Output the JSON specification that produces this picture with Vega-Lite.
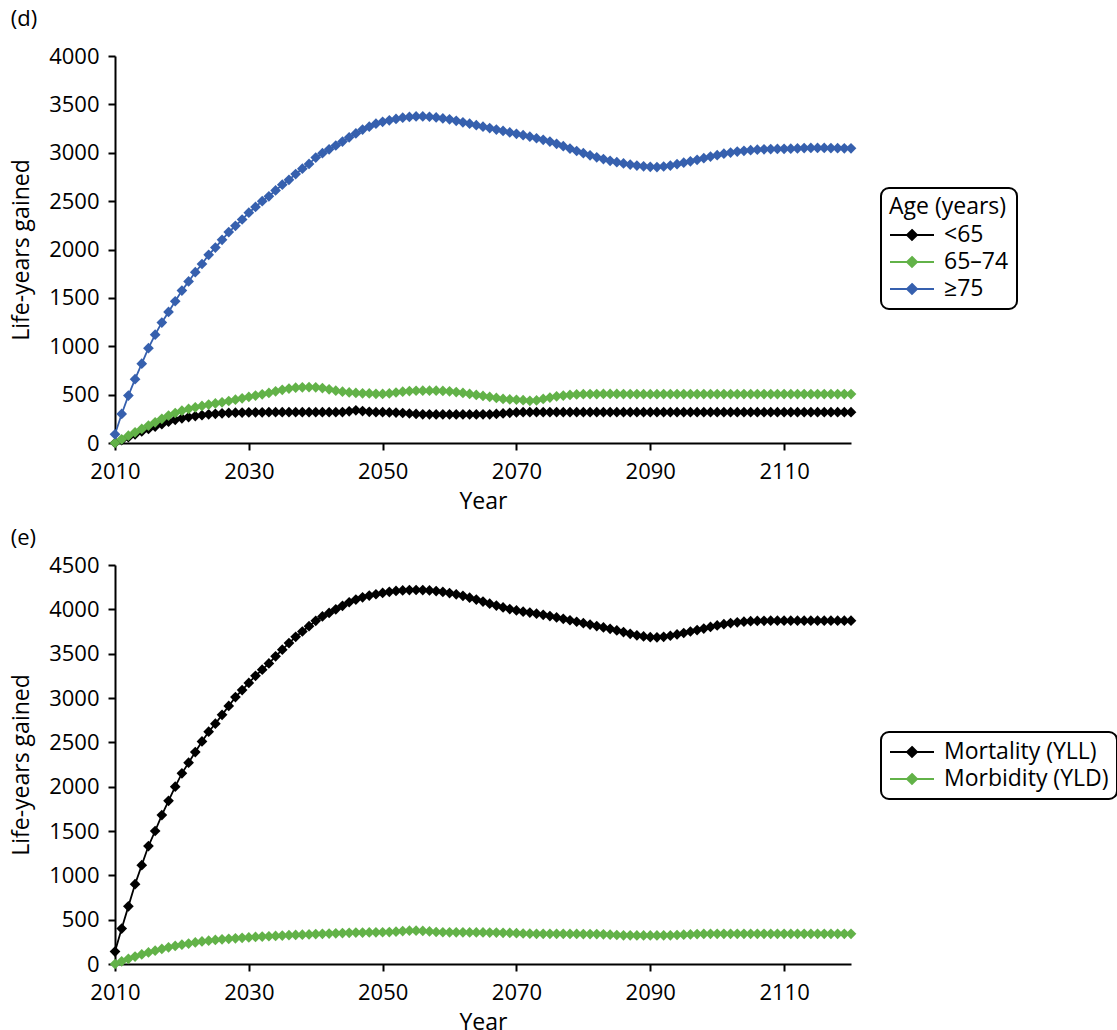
{
"$schema": "https://vega.github.io/schema/vega-lite/v6.json",
"padding": {"left": 10, "top": 8, "right": 0, "bottom": 0},
"spacing": 14,
"config": {"font": "Open Sans", "view": {"stroke": null},
  "axis": {"grid": false, "domainColor": "#000000", "domainWidth": 2, "tickColor": "#000000", "tickWidth": 2, "tickSize": 7, "labelFontSize": 22, "labelColor": "#000000", "titleFontSize": 23, "titleFontWeight": "normal", "titleColor": "#000000", "labelFlush": false},
  "axisX": {"labelPadding": 11, "titlePadding": 8},
  "axisY": {"labelPadding": 9, "titlePadding": 15},
  "legend": {"labelFontSize": 23, "titleFontSize": 23, "titleFontWeight": "normal", "labelColor": "#000000", "titleColor": "#000000", "labelLimit": 400},
  "title": {"fontSize": 22, "fontWeight": "normal", "color": "#000000"}},
"resolve": {"scale": {"color": "independent"}, "legend": {"color": "independent"}},
"datasets": {
"d": [
{"year":2010,"group":"<65","value":0},{"year":2011,"group":"<65","value":30},{"year":2012,"group":"<65","value":60},{"year":2013,"group":"<65","value":90},{"year":2014,"group":"<65","value":120},{"year":2015,"group":"<65","value":145},{"year":2016,"group":"<65","value":170},{"year":2017,"group":"<65","value":195},{"year":2018,"group":"<65","value":220},{"year":2019,"group":"<65","value":240},
{"year":2020,"group":"<65","value":255},{"year":2021,"group":"<65","value":268},{"year":2022,"group":"<65","value":278},{"year":2023,"group":"<65","value":288},{"year":2024,"group":"<65","value":296},{"year":2025,"group":"<65","value":302},{"year":2026,"group":"<65","value":307},{"year":2027,"group":"<65","value":311},{"year":2028,"group":"<65","value":313},{"year":2029,"group":"<65","value":315},
{"year":2030,"group":"<65","value":316},{"year":2031,"group":"<65","value":317},{"year":2032,"group":"<65","value":317},{"year":2033,"group":"<65","value":318},{"year":2034,"group":"<65","value":318},{"year":2035,"group":"<65","value":318},{"year":2036,"group":"<65","value":318},{"year":2037,"group":"<65","value":318},{"year":2038,"group":"<65","value":318},{"year":2039,"group":"<65","value":318},
{"year":2040,"group":"<65","value":318},{"year":2041,"group":"<65","value":318},{"year":2042,"group":"<65","value":318},{"year":2043,"group":"<65","value":318},{"year":2044,"group":"<65","value":320},{"year":2045,"group":"<65","value":328},{"year":2046,"group":"<65","value":338},{"year":2047,"group":"<65","value":330},{"year":2048,"group":"<65","value":322},{"year":2049,"group":"<65","value":319},
{"year":2050,"group":"<65","value":318},{"year":2051,"group":"<65","value":316},{"year":2052,"group":"<65","value":314},{"year":2053,"group":"<65","value":310},{"year":2054,"group":"<65","value":305},{"year":2055,"group":"<65","value":300},{"year":2056,"group":"<65","value":297},{"year":2057,"group":"<65","value":296},{"year":2058,"group":"<65","value":295},{"year":2059,"group":"<65","value":295},
{"year":2060,"group":"<65","value":295},{"year":2061,"group":"<65","value":295},{"year":2062,"group":"<65","value":295},{"year":2063,"group":"<65","value":295},{"year":2064,"group":"<65","value":295},{"year":2065,"group":"<65","value":296},{"year":2066,"group":"<65","value":297},{"year":2067,"group":"<65","value":300},{"year":2068,"group":"<65","value":306},{"year":2069,"group":"<65","value":312},
{"year":2070,"group":"<65","value":316},{"year":2071,"group":"<65","value":318},{"year":2072,"group":"<65","value":318},{"year":2073,"group":"<65","value":318},{"year":2074,"group":"<65","value":318},{"year":2075,"group":"<65","value":318},{"year":2076,"group":"<65","value":318},{"year":2077,"group":"<65","value":318},{"year":2078,"group":"<65","value":318},{"year":2079,"group":"<65","value":318},
{"year":2080,"group":"<65","value":318},{"year":2081,"group":"<65","value":318},{"year":2082,"group":"<65","value":318},{"year":2083,"group":"<65","value":318},{"year":2084,"group":"<65","value":318},{"year":2085,"group":"<65","value":318},{"year":2086,"group":"<65","value":318},{"year":2087,"group":"<65","value":318},{"year":2088,"group":"<65","value":318},{"year":2089,"group":"<65","value":318},
{"year":2090,"group":"<65","value":318},{"year":2091,"group":"<65","value":318},{"year":2092,"group":"<65","value":318},{"year":2093,"group":"<65","value":318},{"year":2094,"group":"<65","value":318},{"year":2095,"group":"<65","value":318},{"year":2096,"group":"<65","value":318},{"year":2097,"group":"<65","value":318},{"year":2098,"group":"<65","value":318},{"year":2099,"group":"<65","value":318},
{"year":2100,"group":"<65","value":318},{"year":2101,"group":"<65","value":318},{"year":2102,"group":"<65","value":318},{"year":2103,"group":"<65","value":318},{"year":2104,"group":"<65","value":318},{"year":2105,"group":"<65","value":318},{"year":2106,"group":"<65","value":318},{"year":2107,"group":"<65","value":318},{"year":2108,"group":"<65","value":318},{"year":2109,"group":"<65","value":318},
{"year":2110,"group":"<65","value":318},{"year":2111,"group":"<65","value":318},{"year":2112,"group":"<65","value":318},{"year":2113,"group":"<65","value":318},{"year":2114,"group":"<65","value":318},{"year":2115,"group":"<65","value":318},{"year":2116,"group":"<65","value":318},{"year":2117,"group":"<65","value":318},{"year":2118,"group":"<65","value":318},{"year":2119,"group":"<65","value":318},{"year":2120,"group":"<65","value":318},
{"year":2010,"group":"65–74","value":0},{"year":2011,"group":"65–74","value":38},{"year":2012,"group":"65–74","value":76},{"year":2013,"group":"65–74","value":110},{"year":2014,"group":"65–74","value":145},{"year":2015,"group":"65–74","value":180},{"year":2016,"group":"65–74","value":214},{"year":2017,"group":"65–74","value":250},{"year":2018,"group":"65–74","value":283},{"year":2019,"group":"65–74","value":310},
{"year":2020,"group":"65–74","value":334},{"year":2021,"group":"65–74","value":352},{"year":2022,"group":"65–74","value":369},{"year":2023,"group":"65–74","value":383},{"year":2024,"group":"65–74","value":397},{"year":2025,"group":"65–74","value":409},{"year":2026,"group":"65–74","value":421},{"year":2027,"group":"65–74","value":434},{"year":2028,"group":"65–74","value":448},{"year":2029,"group":"65–74","value":462},
{"year":2030,"group":"65–74","value":476},{"year":2031,"group":"65–74","value":490},{"year":2032,"group":"65–74","value":503},{"year":2033,"group":"65–74","value":518},{"year":2034,"group":"65–74","value":534},{"year":2035,"group":"65–74","value":550},{"year":2036,"group":"65–74","value":563},{"year":2037,"group":"65–74","value":572},{"year":2038,"group":"65–74","value":576},{"year":2039,"group":"65–74","value":577},
{"year":2040,"group":"65–74","value":576},{"year":2041,"group":"65–74","value":568},{"year":2042,"group":"65–74","value":555},{"year":2043,"group":"65–74","value":541},{"year":2044,"group":"65–74","value":531},{"year":2045,"group":"65–74","value":523},{"year":2046,"group":"65–74","value":517},{"year":2047,"group":"65–74","value":514},{"year":2048,"group":"65–74","value":512},{"year":2049,"group":"65–74","value":508},
{"year":2050,"group":"65–74","value":507},{"year":2051,"group":"65–74","value":512},{"year":2052,"group":"65–74","value":522},{"year":2053,"group":"65–74","value":530},{"year":2054,"group":"65–74","value":537},{"year":2055,"group":"65–74","value":540},{"year":2056,"group":"65–74","value":541},{"year":2057,"group":"65–74","value":541},{"year":2058,"group":"65–74","value":541},{"year":2059,"group":"65–74","value":538},
{"year":2060,"group":"65–74","value":534},{"year":2061,"group":"65–74","value":526},{"year":2062,"group":"65–74","value":517},{"year":2063,"group":"65–74","value":507},{"year":2064,"group":"65–74","value":497},{"year":2065,"group":"65–74","value":487},{"year":2066,"group":"65–74","value":476},{"year":2067,"group":"65–74","value":466},{"year":2068,"group":"65–74","value":456},{"year":2069,"group":"65–74","value":450},
{"year":2070,"group":"65–74","value":447},{"year":2071,"group":"65–74","value":442},{"year":2072,"group":"65–74","value":436},{"year":2073,"group":"65–74","value":440},{"year":2074,"group":"65–74","value":455},{"year":2075,"group":"65–74","value":470},{"year":2076,"group":"65–74","value":482},{"year":2077,"group":"65–74","value":490},{"year":2078,"group":"65–74","value":497},{"year":2079,"group":"65–74","value":502},
{"year":2080,"group":"65–74","value":505},{"year":2081,"group":"65–74","value":506},{"year":2082,"group":"65–74","value":506},{"year":2083,"group":"65–74","value":507},{"year":2084,"group":"65–74","value":507},{"year":2085,"group":"65–74","value":507},{"year":2086,"group":"65–74","value":506},{"year":2087,"group":"65–74","value":506},{"year":2088,"group":"65–74","value":506},{"year":2089,"group":"65–74","value":505},
{"year":2090,"group":"65–74","value":505},{"year":2091,"group":"65–74","value":505},{"year":2092,"group":"65–74","value":506},{"year":2093,"group":"65–74","value":506},{"year":2094,"group":"65–74","value":506},{"year":2095,"group":"65–74","value":506},{"year":2096,"group":"65–74","value":506},{"year":2097,"group":"65–74","value":506},{"year":2098,"group":"65–74","value":506},{"year":2099,"group":"65–74","value":506},
{"year":2100,"group":"65–74","value":506},{"year":2101,"group":"65–74","value":506},{"year":2102,"group":"65–74","value":506},{"year":2103,"group":"65–74","value":506},{"year":2104,"group":"65–74","value":506},{"year":2105,"group":"65–74","value":506},{"year":2106,"group":"65–74","value":506},{"year":2107,"group":"65–74","value":506},{"year":2108,"group":"65–74","value":506},{"year":2109,"group":"65–74","value":506},
{"year":2110,"group":"65–74","value":506},{"year":2111,"group":"65–74","value":506},{"year":2112,"group":"65–74","value":506},{"year":2113,"group":"65–74","value":506},{"year":2114,"group":"65–74","value":506},{"year":2115,"group":"65–74","value":506},{"year":2116,"group":"65–74","value":506},{"year":2117,"group":"65–74","value":506},{"year":2118,"group":"65–74","value":506},{"year":2119,"group":"65–74","value":506},{"year":2120,"group":"65–74","value":506},
{"year":2010,"group":"≥75","value":90},{"year":2011,"group":"≥75","value":300},{"year":2012,"group":"≥75","value":490},{"year":2013,"group":"≥75","value":660},{"year":2014,"group":"≥75","value":820},{"year":2015,"group":"≥75","value":980},{"year":2016,"group":"≥75","value":1120},{"year":2017,"group":"≥75","value":1245},{"year":2018,"group":"≥75","value":1355},{"year":2019,"group":"≥75","value":1465},
{"year":2020,"group":"≥75","value":1575},{"year":2021,"group":"≥75","value":1670},{"year":2022,"group":"≥75","value":1765},{"year":2023,"group":"≥75","value":1850},{"year":2024,"group":"≥75","value":1945},{"year":2025,"group":"≥75","value":2020},{"year":2026,"group":"≥75","value":2100},{"year":2027,"group":"≥75","value":2180},{"year":2028,"group":"≥75","value":2245},{"year":2029,"group":"≥75","value":2310},
{"year":2030,"group":"≥75","value":2380},{"year":2031,"group":"≥75","value":2440},{"year":2032,"group":"≥75","value":2500},{"year":2033,"group":"≥75","value":2550},{"year":2034,"group":"≥75","value":2610},{"year":2035,"group":"≥75","value":2670},{"year":2036,"group":"≥75","value":2720},{"year":2037,"group":"≥75","value":2780},{"year":2038,"group":"≥75","value":2835},{"year":2039,"group":"≥75","value":2885},
{"year":2040,"group":"≥75","value":2950},{"year":2041,"group":"≥75","value":2995},{"year":2042,"group":"≥75","value":3035},{"year":2043,"group":"≥75","value":3075},{"year":2044,"group":"≥75","value":3115},{"year":2045,"group":"≥75","value":3160},{"year":2046,"group":"≥75","value":3200},{"year":2047,"group":"≥75","value":3240},{"year":2048,"group":"≥75","value":3270},{"year":2049,"group":"≥75","value":3300},
{"year":2050,"group":"≥75","value":3320},{"year":2051,"group":"≥75","value":3335},{"year":2052,"group":"≥75","value":3350},{"year":2053,"group":"≥75","value":3362},{"year":2054,"group":"≥75","value":3370},{"year":2055,"group":"≥75","value":3375},{"year":2056,"group":"≥75","value":3375},{"year":2057,"group":"≥75","value":3372},{"year":2058,"group":"≥75","value":3365},{"year":2059,"group":"≥75","value":3355},
{"year":2060,"group":"≥75","value":3345},{"year":2061,"group":"≥75","value":3330},{"year":2062,"group":"≥75","value":3315},{"year":2063,"group":"≥75","value":3300},{"year":2064,"group":"≥75","value":3285},{"year":2065,"group":"≥75","value":3270},{"year":2066,"group":"≥75","value":3255},{"year":2067,"group":"≥75","value":3240},{"year":2068,"group":"≥75","value":3225},{"year":2069,"group":"≥75","value":3210},
{"year":2070,"group":"≥75","value":3196},{"year":2071,"group":"≥75","value":3182},{"year":2072,"group":"≥75","value":3166},{"year":2073,"group":"≥75","value":3150},{"year":2074,"group":"≥75","value":3134},{"year":2075,"group":"≥75","value":3115},{"year":2076,"group":"≥75","value":3092},{"year":2077,"group":"≥75","value":3068},{"year":2078,"group":"≥75","value":3043},{"year":2079,"group":"≥75","value":3018},
{"year":2080,"group":"≥75","value":2995},{"year":2081,"group":"≥75","value":2973},{"year":2082,"group":"≥75","value":2953},{"year":2083,"group":"≥75","value":2935},{"year":2084,"group":"≥75","value":2917},{"year":2085,"group":"≥75","value":2902},{"year":2086,"group":"≥75","value":2890},{"year":2087,"group":"≥75","value":2878},{"year":2088,"group":"≥75","value":2868},{"year":2089,"group":"≥75","value":2860},
{"year":2090,"group":"≥75","value":2855},{"year":2091,"group":"≥75","value":2852},{"year":2092,"group":"≥75","value":2858},{"year":2093,"group":"≥75","value":2868},{"year":2094,"group":"≥75","value":2882},{"year":2095,"group":"≥75","value":2897},{"year":2096,"group":"≥75","value":2912},{"year":2097,"group":"≥75","value":2927},{"year":2098,"group":"≥75","value":2944},{"year":2099,"group":"≥75","value":2960},
{"year":2100,"group":"≥75","value":2975},{"year":2101,"group":"≥75","value":2990},{"year":2102,"group":"≥75","value":3002},{"year":2103,"group":"≥75","value":3012},{"year":2104,"group":"≥75","value":3020},{"year":2105,"group":"≥75","value":3026},{"year":2106,"group":"≥75","value":3032},{"year":2107,"group":"≥75","value":3036},{"year":2108,"group":"≥75","value":3038},{"year":2109,"group":"≥75","value":3040},
{"year":2110,"group":"≥75","value":3041},{"year":2111,"group":"≥75","value":3042},{"year":2112,"group":"≥75","value":3045},{"year":2113,"group":"≥75","value":3048},{"year":2114,"group":"≥75","value":3050},{"year":2115,"group":"≥75","value":3050},{"year":2116,"group":"≥75","value":3050},{"year":2117,"group":"≥75","value":3048},{"year":2118,"group":"≥75","value":3047},{"year":2119,"group":"≥75","value":3046},{"year":2120,"group":"≥75","value":3046}
],
"e": [
{"year":2010,"type":"Mortality (YLL)","value":140},{"year":2011,"type":"Mortality (YLL)","value":400},{"year":2012,"type":"Mortality (YLL)","value":650},{"year":2013,"type":"Mortality (YLL)","value":900},{"year":2014,"type":"Mortality (YLL)","value":1115},{"year":2015,"type":"Mortality (YLL)","value":1330},{"year":2016,"type":"Mortality (YLL)","value":1500},{"year":2017,"type":"Mortality (YLL)","value":1680},{"year":2018,"type":"Mortality (YLL)","value":1840},{"year":2019,"type":"Mortality (YLL)","value":2000},
{"year":2020,"type":"Mortality (YLL)","value":2150},{"year":2021,"type":"Mortality (YLL)","value":2270},{"year":2022,"type":"Mortality (YLL)","value":2390},{"year":2023,"type":"Mortality (YLL)","value":2510},{"year":2024,"type":"Mortality (YLL)","value":2620},{"year":2025,"type":"Mortality (YLL)","value":2710},{"year":2026,"type":"Mortality (YLL)","value":2810},{"year":2027,"type":"Mortality (YLL)","value":2910},{"year":2028,"type":"Mortality (YLL)","value":3010},{"year":2029,"type":"Mortality (YLL)","value":3090},
{"year":2030,"type":"Mortality (YLL)","value":3170},{"year":2031,"type":"Mortality (YLL)","value":3250},{"year":2032,"type":"Mortality (YLL)","value":3320},{"year":2033,"type":"Mortality (YLL)","value":3390},{"year":2034,"type":"Mortality (YLL)","value":3470},{"year":2035,"type":"Mortality (YLL)","value":3545},{"year":2036,"type":"Mortality (YLL)","value":3620},{"year":2037,"type":"Mortality (YLL)","value":3690},{"year":2038,"type":"Mortality (YLL)","value":3750},{"year":2039,"type":"Mortality (YLL)","value":3810},
{"year":2040,"type":"Mortality (YLL)","value":3870},{"year":2041,"type":"Mortality (YLL)","value":3920},{"year":2042,"type":"Mortality (YLL)","value":3960},{"year":2043,"type":"Mortality (YLL)","value":4000},{"year":2044,"type":"Mortality (YLL)","value":4040},{"year":2045,"type":"Mortality (YLL)","value":4080},{"year":2046,"type":"Mortality (YLL)","value":4110},{"year":2047,"type":"Mortality (YLL)","value":4135},{"year":2048,"type":"Mortality (YLL)","value":4155},{"year":2049,"type":"Mortality (YLL)","value":4170},
{"year":2050,"type":"Mortality (YLL)","value":4185},{"year":2051,"type":"Mortality (YLL)","value":4198},{"year":2052,"type":"Mortality (YLL)","value":4207},{"year":2053,"type":"Mortality (YLL)","value":4213},{"year":2054,"type":"Mortality (YLL)","value":4217},{"year":2055,"type":"Mortality (YLL)","value":4218},{"year":2056,"type":"Mortality (YLL)","value":4217},{"year":2057,"type":"Mortality (YLL)","value":4213},{"year":2058,"type":"Mortality (YLL)","value":4206},{"year":2059,"type":"Mortality (YLL)","value":4196},
{"year":2060,"type":"Mortality (YLL)","value":4184},{"year":2061,"type":"Mortality (YLL)","value":4169},{"year":2062,"type":"Mortality (YLL)","value":4152},{"year":2063,"type":"Mortality (YLL)","value":4132},{"year":2064,"type":"Mortality (YLL)","value":4110},{"year":2065,"type":"Mortality (YLL)","value":4087},{"year":2066,"type":"Mortality (YLL)","value":4064},{"year":2067,"type":"Mortality (YLL)","value":4042},{"year":2068,"type":"Mortality (YLL)","value":4021},{"year":2069,"type":"Mortality (YLL)","value":4003},
{"year":2070,"type":"Mortality (YLL)","value":3987},{"year":2071,"type":"Mortality (YLL)","value":3974},{"year":2072,"type":"Mortality (YLL)","value":3963},{"year":2073,"type":"Mortality (YLL)","value":3951},{"year":2074,"type":"Mortality (YLL)","value":3938},{"year":2075,"type":"Mortality (YLL)","value":3924},{"year":2076,"type":"Mortality (YLL)","value":3909},{"year":2077,"type":"Mortality (YLL)","value":3893},{"year":2078,"type":"Mortality (YLL)","value":3877},{"year":2079,"type":"Mortality (YLL)","value":3860},
{"year":2080,"type":"Mortality (YLL)","value":3844},{"year":2081,"type":"Mortality (YLL)","value":3828},{"year":2082,"type":"Mortality (YLL)","value":3811},{"year":2083,"type":"Mortality (YLL)","value":3796},{"year":2084,"type":"Mortality (YLL)","value":3780},{"year":2085,"type":"Mortality (YLL)","value":3762},{"year":2086,"type":"Mortality (YLL)","value":3743},{"year":2087,"type":"Mortality (YLL)","value":3724},{"year":2088,"type":"Mortality (YLL)","value":3707},{"year":2089,"type":"Mortality (YLL)","value":3694},
{"year":2090,"type":"Mortality (YLL)","value":3686},{"year":2091,"type":"Mortality (YLL)","value":3684},{"year":2092,"type":"Mortality (YLL)","value":3690},{"year":2093,"type":"Mortality (YLL)","value":3702},{"year":2094,"type":"Mortality (YLL)","value":3717},{"year":2095,"type":"Mortality (YLL)","value":3733},{"year":2096,"type":"Mortality (YLL)","value":3750},{"year":2097,"type":"Mortality (YLL)","value":3766},{"year":2098,"type":"Mortality (YLL)","value":3783},{"year":2099,"type":"Mortality (YLL)","value":3802},
{"year":2100,"type":"Mortality (YLL)","value":3818},{"year":2101,"type":"Mortality (YLL)","value":3832},{"year":2102,"type":"Mortality (YLL)","value":3845},{"year":2103,"type":"Mortality (YLL)","value":3854},{"year":2104,"type":"Mortality (YLL)","value":3861},{"year":2105,"type":"Mortality (YLL)","value":3866},{"year":2106,"type":"Mortality (YLL)","value":3869},{"year":2107,"type":"Mortality (YLL)","value":3871},{"year":2108,"type":"Mortality (YLL)","value":3872},{"year":2109,"type":"Mortality (YLL)","value":3872},
{"year":2110,"type":"Mortality (YLL)","value":3872},{"year":2111,"type":"Mortality (YLL)","value":3872},{"year":2112,"type":"Mortality (YLL)","value":3872},{"year":2113,"type":"Mortality (YLL)","value":3872},{"year":2114,"type":"Mortality (YLL)","value":3872},{"year":2115,"type":"Mortality (YLL)","value":3872},{"year":2116,"type":"Mortality (YLL)","value":3872},{"year":2117,"type":"Mortality (YLL)","value":3872},{"year":2118,"type":"Mortality (YLL)","value":3872},{"year":2119,"type":"Mortality (YLL)","value":3872},{"year":2120,"type":"Mortality (YLL)","value":3872},
{"year":2010,"type":"Morbidity (YLD)","value":0},{"year":2011,"type":"Morbidity (YLD)","value":30},{"year":2012,"type":"Morbidity (YLD)","value":58},{"year":2013,"type":"Morbidity (YLD)","value":84},{"year":2014,"type":"Morbidity (YLD)","value":108},{"year":2015,"type":"Morbidity (YLD)","value":130},{"year":2016,"type":"Morbidity (YLD)","value":150},{"year":2017,"type":"Morbidity (YLD)","value":170},{"year":2018,"type":"Morbidity (YLD)","value":188},{"year":2019,"type":"Morbidity (YLD)","value":204},
{"year":2020,"type":"Morbidity (YLD)","value":218},{"year":2021,"type":"Morbidity (YLD)","value":231},{"year":2022,"type":"Morbidity (YLD)","value":243},{"year":2023,"type":"Morbidity (YLD)","value":254},{"year":2024,"type":"Morbidity (YLD)","value":263},{"year":2025,"type":"Morbidity (YLD)","value":271},{"year":2026,"type":"Morbidity (YLD)","value":278},{"year":2027,"type":"Morbidity (YLD)","value":284},{"year":2028,"type":"Morbidity (YLD)","value":290},{"year":2029,"type":"Morbidity (YLD)","value":295},
{"year":2030,"type":"Morbidity (YLD)","value":300},{"year":2031,"type":"Morbidity (YLD)","value":305},{"year":2032,"type":"Morbidity (YLD)","value":309},{"year":2033,"type":"Morbidity (YLD)","value":313},{"year":2034,"type":"Morbidity (YLD)","value":317},{"year":2035,"type":"Morbidity (YLD)","value":321},{"year":2036,"type":"Morbidity (YLD)","value":325},{"year":2037,"type":"Morbidity (YLD)","value":328},{"year":2038,"type":"Morbidity (YLD)","value":331},{"year":2039,"type":"Morbidity (YLD)","value":334},
{"year":2040,"type":"Morbidity (YLD)","value":337},{"year":2041,"type":"Morbidity (YLD)","value":340},{"year":2042,"type":"Morbidity (YLD)","value":343},{"year":2043,"type":"Morbidity (YLD)","value":346},{"year":2044,"type":"Morbidity (YLD)","value":349},{"year":2045,"type":"Morbidity (YLD)","value":352},{"year":2046,"type":"Morbidity (YLD)","value":354},{"year":2047,"type":"Morbidity (YLD)","value":355},{"year":2048,"type":"Morbidity (YLD)","value":356},{"year":2049,"type":"Morbidity (YLD)","value":357},
{"year":2050,"type":"Morbidity (YLD)","value":358},{"year":2051,"type":"Morbidity (YLD)","value":360},{"year":2052,"type":"Morbidity (YLD)","value":365},{"year":2053,"type":"Morbidity (YLD)","value":372},{"year":2054,"type":"Morbidity (YLD)","value":376},{"year":2055,"type":"Morbidity (YLD)","value":376},{"year":2056,"type":"Morbidity (YLD)","value":373},{"year":2057,"type":"Morbidity (YLD)","value":367},{"year":2058,"type":"Morbidity (YLD)","value":361},{"year":2059,"type":"Morbidity (YLD)","value":358},
{"year":2060,"type":"Morbidity (YLD)","value":357},{"year":2061,"type":"Morbidity (YLD)","value":357},{"year":2062,"type":"Morbidity (YLD)","value":357},{"year":2063,"type":"Morbidity (YLD)","value":356},{"year":2064,"type":"Morbidity (YLD)","value":356},{"year":2065,"type":"Morbidity (YLD)","value":356},{"year":2066,"type":"Morbidity (YLD)","value":355},{"year":2067,"type":"Morbidity (YLD)","value":354},{"year":2068,"type":"Morbidity (YLD)","value":352},{"year":2069,"type":"Morbidity (YLD)","value":350},
{"year":2070,"type":"Morbidity (YLD)","value":347},{"year":2071,"type":"Morbidity (YLD)","value":344},{"year":2072,"type":"Morbidity (YLD)","value":342},{"year":2073,"type":"Morbidity (YLD)","value":341},{"year":2074,"type":"Morbidity (YLD)","value":340},{"year":2075,"type":"Morbidity (YLD)","value":340},{"year":2076,"type":"Morbidity (YLD)","value":340},{"year":2077,"type":"Morbidity (YLD)","value":340},{"year":2078,"type":"Morbidity (YLD)","value":339},{"year":2079,"type":"Morbidity (YLD)","value":339},
{"year":2080,"type":"Morbidity (YLD)","value":338},{"year":2081,"type":"Morbidity (YLD)","value":338},{"year":2082,"type":"Morbidity (YLD)","value":337},{"year":2083,"type":"Morbidity (YLD)","value":335},{"year":2084,"type":"Morbidity (YLD)","value":331},{"year":2085,"type":"Morbidity (YLD)","value":327},{"year":2086,"type":"Morbidity (YLD)","value":324},{"year":2087,"type":"Morbidity (YLD)","value":323},{"year":2088,"type":"Morbidity (YLD)","value":322},{"year":2089,"type":"Morbidity (YLD)","value":322},
{"year":2090,"type":"Morbidity (YLD)","value":322},{"year":2091,"type":"Morbidity (YLD)","value":322},{"year":2092,"type":"Morbidity (YLD)","value":323},{"year":2093,"type":"Morbidity (YLD)","value":324},{"year":2094,"type":"Morbidity (YLD)","value":327},{"year":2095,"type":"Morbidity (YLD)","value":331},{"year":2096,"type":"Morbidity (YLD)","value":334},{"year":2097,"type":"Morbidity (YLD)","value":337},{"year":2098,"type":"Morbidity (YLD)","value":339},{"year":2099,"type":"Morbidity (YLD)","value":340},
{"year":2100,"type":"Morbidity (YLD)","value":340},{"year":2101,"type":"Morbidity (YLD)","value":340},{"year":2102,"type":"Morbidity (YLD)","value":340},{"year":2103,"type":"Morbidity (YLD)","value":340},{"year":2104,"type":"Morbidity (YLD)","value":340},{"year":2105,"type":"Morbidity (YLD)","value":340},{"year":2106,"type":"Morbidity (YLD)","value":340},{"year":2107,"type":"Morbidity (YLD)","value":340},{"year":2108,"type":"Morbidity (YLD)","value":340},{"year":2109,"type":"Morbidity (YLD)","value":340},
{"year":2110,"type":"Morbidity (YLD)","value":340},{"year":2111,"type":"Morbidity (YLD)","value":340},{"year":2112,"type":"Morbidity (YLD)","value":340},{"year":2113,"type":"Morbidity (YLD)","value":340},{"year":2114,"type":"Morbidity (YLD)","value":340},{"year":2115,"type":"Morbidity (YLD)","value":340},{"year":2116,"type":"Morbidity (YLD)","value":340},{"year":2117,"type":"Morbidity (YLD)","value":340},{"year":2118,"type":"Morbidity (YLD)","value":340},{"year":2119,"type":"Morbidity (YLD)","value":340},{"year":2120,"type":"Morbidity (YLD)","value":340}
]
},
"vconcat": [
{
"name": "pd",
"title": {"text": "(d)", "anchor": "start", "frame": "bounds", "offset": 14},
"width": 736, "height": 387,
"data": {"name": "d"},
"encoding": {
  "x": {"field": "year", "type": "quantitative", "scale": {"domain": [2010, 2120], "nice": false, "zero": false},
        "axis": {"values": [2010, 2030, 2050, 2070, 2090, 2110], "format": "d", "title": "Year"}},
  "y": {"field": "value", "type": "quantitative", "scale": {"domain": [0, 4000], "nice": false},
        "axis": {"values": [0, 500, 1000, 1500, 2000, 2500, 3000, 3500, 4000], "format": "d", "title": "Life-years gained"}},
  "color": {"field": "group", "type": "nominal", "sort": null,
        "scale": {"domain": ["<65", "65–74", "≥75"], "range": ["#000000", "#62b248", "#3660ae"]},
        "legend": {"title": "Age (years)", "orient": "none", "legendX": 766, "legendY": 132,
          "symbolType": "M-2,0L2,0M0,-0.45L0.45,0L0,0.45L-0.45,0Z", "symbolSize": 484, "symbolStrokeWidth": 2,
          "symbolOffset": 11, "labelOffset": 20, "rowPadding": 3, "titlePadding": 4, "padding": 8,
          "strokeColor": "#000000", "cornerRadius": 8,
          "encode": {
            "legend": {"update": {"strokeWidth": {"value": 2}}},
            "symbols": {"update": {
            "fill": {"signal": "datum.value === '<65' ? '#000000' : datum.value === '65–74' ? '#62b248' : '#3660ae'"},
            "stroke": {"signal": "datum.value === '<65' ? '#000000' : datum.value === '65–74' ? '#62b248' : '#3660ae'"}}}}}}
},
"layer": [
  {"mark": {"type": "line", "strokeWidth": 1.8}},
  {"mark": {"type": "point", "shape": "diamond", "filled": true, "size": 115, "opacity": 1}}
]
},
{
"name": "pe",
"title": {"text": "(e)", "anchor": "start", "frame": "bounds", "offset": 4},
"width": 736, "height": 399,
"data": {"name": "e"},
"encoding": {
  "x": {"field": "year", "type": "quantitative", "scale": {"domain": [2010, 2120], "nice": false, "zero": false},
        "axis": {"values": [2010, 2030, 2050, 2070, 2090, 2110], "format": "d", "title": "Year"}},
  "y": {"field": "value", "type": "quantitative", "scale": {"domain": [0, 4500], "nice": false},
        "axis": {"values": [0, 500, 1000, 1500, 2000, 2500, 3000, 3500, 4000, 4500], "format": "d", "title": "Life-years gained"}},
  "color": {"field": "type", "type": "nominal", "sort": null,
        "scale": {"domain": ["Mortality (YLL)", "Morbidity (YLD)"], "range": ["#000000", "#62b248"]},
        "legend": {"title": null, "orient": "none", "legendX": 766, "legendY": 167,
          "symbolType": "M-2,0L2,0M0,-0.45L0.45,0L0,0.45L-0.45,0Z", "symbolSize": 484, "symbolStrokeWidth": 2,
          "symbolOffset": 11, "labelOffset": 20, "rowPadding": 3, "padding": 8,
          "strokeColor": "#000000", "cornerRadius": 8,
          "encode": {
            "legend": {"update": {"strokeWidth": {"value": 2}}},
            "symbols": {"update": {
            "fill": {"signal": "datum.value === 'Mortality (YLL)' ? '#000000' : '#62b248'"},
            "stroke": {"signal": "datum.value === 'Mortality (YLL)' ? '#000000' : '#62b248'"}}}}}}
},
"layer": [
  {"mark": {"type": "line", "strokeWidth": 1.8}},
  {"mark": {"type": "point", "shape": "diamond", "filled": true, "size": 115, "opacity": 1}}
]
}
]
}
